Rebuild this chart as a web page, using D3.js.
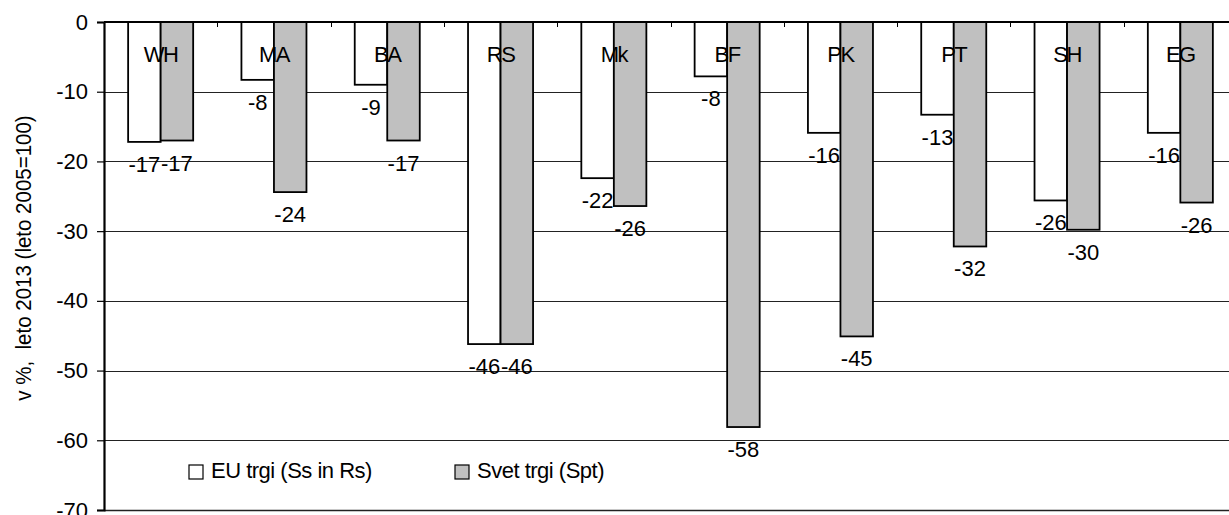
<!DOCTYPE html>
<html>
<head>
<meta charset="utf-8">
<script src="https://cdn.jsdelivr.net/npm/d3@7/dist/d3.min.js"></script>
<style>
  html, body { margin: 0; padding: 0; background: #fff; }
  svg { display: block; font-family: "Liberation Sans", Arial, sans-serif; }
</style>
</head>
<body>
<svg id="chart" width="1229" height="515"></svg>
<script>
'use strict';

// data
const categories = ['WH', 'MA', 'BA', 'RS', 'Mk', 'BF', 'PK', 'PT', 'SH', 'EG'];
const series_names = ['EU trgi (Ss in Rs)', 'Svet trgi (Spt)'];
const eu_values = [-17.2, -8.3, -9.0, -46.2, -22.4, -7.8, -15.9, -13.3, -25.6, -15.9];
const svet_values = [-17.0, -24.4, -17.0, -46.2, -26.4, -58.1, -45.1, -32.2, -29.8, -25.9];
const y_ticks = [0, -10, -20, -30, -40, -50, -60, -70];
const y_title = 'v %,  leto 2013 (leto 2005=100)';

const series_fill = ['#ffffff', '#c0c0c0'];
const series_values = [eu_values, svet_values];

const margin = { left: 104, top: 22, right: -8, bottom: 5 };
const svg = d3.select('#chart');
const width = +svg.attr('width');
const height = +svg.attr('height');

const y = d3.scaleLinear()
    .domain([0, -70])
    .range([margin.top, height - margin.bottom]);

const x0 = d3.scaleBand()
    .domain(categories)
    .range([margin.left, width - margin.right])
    .paddingInner(0)
    .paddingOuter(0);

const bw = x0.bandwidth();
const x1 = d3.scaleBand()
    .domain(d3.range(series_names.length))
    .range([bw / 2 - bw * 0.287, bw / 2 + bw * 0.287]);

const font_size = 22;

// gridlines
svg.append('g')
    .selectAll('line')
    .data(y_ticks.filter(d => d !== 0))
    .join('line')
    .attr('x1', margin.left)
    .attr('x2', width)
    .attr('y1', d => Math.round(y(d)) + 0.5)
    .attr('y2', d => Math.round(y(d)) + 0.5)
    .attr('stroke', '#222')
    .attr('stroke-width', d => d === -70 ? 1.6 : 1);

// y axis
const y_axis = svg.append('g')
    .attr('transform', `translate(${margin.left},0)`)
    .call(d3.axisLeft(y).tickValues(y_ticks).tickSize(7).tickPadding(9).tickFormat(d3.format('d')));
y_axis.select('.domain').attr('stroke', '#000').attr('stroke-width', 2.2);
y_axis.selectAll('.tick line').attr('stroke', '#000').attr('stroke-width', 1.2);
y_axis.selectAll('.tick text')
    .attr('fill', '#000')
    .style('font-size', font_size + 'px')
    .text(d => d === 0 ? '0' : '-' + Math.abs(d));

// y title
svg.append('text')
    .attr('transform', 'translate(31,258) scale(1.12,1) rotate(-90)')
    .attr('text-anchor', 'middle')
    .style('font-size', '20.5px')
    .style('white-space', 'pre')
    .attr('fill', '#000')
    .text(y_title);

// bars
const groups = svg.append('g')
    .selectAll('g')
    .data(categories)
    .join('g')
    .attr('transform', d => `translate(${x0(d)},0)`);

groups.selectAll('rect')
    .data((d, i) => series_values.map((vals, s) => ({ s, v: vals[i] })))
    .join('rect')
    .attr('x', d => x1(d.s))
    .attr('width', x1.bandwidth())
    .attr('y', y(0))
    .attr('height', d => y(d.v) - y(0))
    .attr('fill', d => series_fill[d.s])
    .attr('stroke', '#000')
    .attr('stroke-width', 1.8);

// category labels inside the top of plot
groups.append('text')
    .attr('x', bw / 2)
    .attr('y', 62)
    .attr('text-anchor', 'middle')
    .style('font-size', font_size + 'px')
    .style('letter-spacing', '-1.5px')
    .attr('fill', '#000')
    .text(d => d);

// value labels below each bar
groups.selectAll('text.val')
    .data((d, i) => series_values.map((vals, s) => ({ s, v: vals[i] })))
    .join('text')
    .attr('class', 'val')
    .attr('x', d => x1(d.s) + x1.bandwidth() / 2)
    .attr('y', d => y(d.v) + 30)
    .attr('text-anchor', 'middle')
    .style('font-size', font_size + 'px')
    .attr('fill', '#000')
    .text(d => '-' + Math.round(Math.abs(d.v)));

// top (category) axis line at 0 with small ticks between categories
svg.append('line')
    .attr('x1', margin.left)
    .attr('x2', width)
    .attr('y1', y(0))
    .attr('y2', y(0))
    .attr('stroke', '#000')
    .attr('stroke-width', 2.2);

svg.append('g')
    .selectAll('line')
    .data(categories.slice(1))
    .join('line')
    .attr('x1', d => Math.round(x0(d)) + 0.5)
    .attr('x2', d => Math.round(x0(d)) + 0.5)
    .attr('y1', y(0))
    .attr('y2', y(0) + 5)
    .attr('stroke', '#000')
    .attr('stroke-width', 1);

// legend
const legend_x = [189, 455];
const legend = svg.append('g')
    .selectAll('g')
    .data(series_names)
    .join('g')
    .attr('transform', (d, i) => `translate(${legend_x[i]},465)`);

legend.append('rect')
    .attr('width', 14)
    .attr('height', 14)
    .attr('fill', (d, i) => series_fill[i])
    .attr('stroke', '#000')
    .attr('stroke-width', 1.2);

legend.append('text')
    .attr('x', 22)
    .attr('y', 13)
    .style('font-size', font_size + 'px')
    .style('letter-spacing', '-0.5px')
    .attr('fill', '#000')
    .text(d => d);
</script>
</body>
</html>
